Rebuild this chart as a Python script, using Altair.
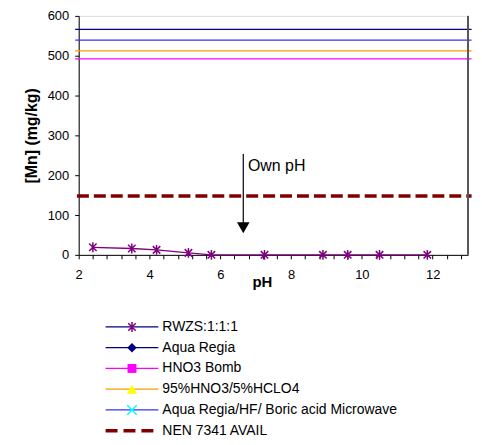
import altair as alt
import pandas as pd

# ---- data ----
ph = [2.4, 3.5, 4.2, 5.1, 5.75, 7.25, 8.9, 9.6, 10.5, 11.85]
rwzs = [19, 16, 12.5, 5, 0, 0, 0, 0, 0, 0]

ref_names = ["Aqua Regia", "Aqua Regia/HF/ Boric acid Microwave",
             "95%HNO3/5%HCLO4", "HNO3 Bomb"]
ref_values = [566, 539, 512, 492]
ref_colors = ["#000080", "#3333ff", "#ff9900", "#ff00ff"]

nen_name = "NEN 7341 AVAIL"
nen_value = [148]

arrow_x = [6.65]
arrow_top = [253]
arrow_tip = [78]
arrow_head = [68]
label_x = [6.78]
label_y = [222]

legend_names = ["RWZS:1:1:1", "Aqua Regia", "HNO3 Bomb", "95%HNO3/5%HCLO4",
                "Aqua Regia/HF/ Boric acid Microwave", "NEN 7341 AVAIL"]
legend_line_colors = ["#800080", "#000080", "#ff00ff", "#ff9900", "#0000ff", "#800000"]

x_ticks = [round(2 + 0.4 * i, 1) for i in range(28)]
y_ticks = [0, 100, 200, 300, 400, 500, 600]

FONT = "Liberation Sans"
W, H = 391, 240
ASTERISK = "M0,-1L0,1M-0.75,-0.75L0.75,0.75M-0.75,0.75L0.75,-0.75"
XMARK = "M-1,-1L1,1M-1,1L1,-1"

xscale = alt.Scale(domain=[2, 13], nice=False, zero=False)
yscale = alt.Scale(domain=[0, 600], nice=False)

x_axis = alt.Axis(values=x_ticks,
                  labelExpr="datum.value % 2 == 0 ? format(datum.value, 'd') : ''",
                  labelOverlap=False, labelFlush=False, tickSize=4, labelPadding=10,
                  labelFontSize=13, titleFontSize=15, titleFontWeight="bold",
                  titleY=20, titleX=184, grid=False, domainColor="black",
                  tickColor="black", labelColor="black", titleColor="black",
                  labelFont=FONT, titleFont=FONT)
y_axis = alt.Axis(values=y_ticks, labelOverlap=False, labelFlush=False, tickSize=4,
                  labelPadding=6, labelFontSize=13, titleFontSize=16, titleFontWeight="bold",
                  titlePadding=8, grid=False, domainColor="black", tickColor="black",
                  labelColor="black", titleColor="black",
                  labelFont=FONT, titleFont=FONT)


def X(field):
    return alt.X(field, scale=xscale, title="pH", axis=x_axis)


def Y(field):
    return alt.Y(field, scale=yscale, title="[Mn] (mg/kg)", axis=y_axis)


# ---- main plot ----
ref_df = pd.DataFrame({"name": ref_names, "v": ref_values, "x0": 1.9, "x1": 13.1})
refs = alt.Chart(ref_df).mark_rule(strokeWidth=1.2).encode(
    x=X("x0:Q"), x2="x1:Q", y=Y("v:Q"),
    color=alt.Color("name:N", scale=alt.Scale(domain=ref_names, range=ref_colors), legend=None),
)

nen_df = pd.DataFrame({"name": [nen_name], "v": nen_value, "x0": 1.95, "x1": 13.1})
nen = alt.Chart(nen_df).mark_rule(strokeWidth=3.5, strokeDash=[12, 5], color="#800000").encode(
    x=X("x0:Q"), x2="x1:Q", y=Y("v:Q"))

rw_df = pd.DataFrame({"ph": ph, "mn": rwzs})
rw_line = alt.Chart(rw_df).mark_line(color="#800080", strokeWidth=1.3).encode(
    x=X("ph:Q"), y=Y("mn:Q"))
rw_pts = alt.Chart(rw_df).mark_point(shape=ASTERISK, size=100, filled=False,
                                     color="#800080", strokeWidth=1.5, opacity=1).encode(
    x=X("ph:Q"), y=Y("mn:Q"))

arr_df = pd.DataFrame({"x": arrow_x, "y0": arrow_top, "y1": arrow_tip, "yh": arrow_head,
                       "lx": label_x, "ly": label_y, "t": ["Own pH"]})
arrow = alt.Chart(arr_df).mark_rule(color="black", strokeWidth=1.2).encode(
    x=X("x:Q"), y=Y("y0:Q"), y2="y1:Q")
head = alt.Chart(arr_df).mark_point(shape="triangle-down", size=160, filled=True,
                                    color="black", opacity=1).encode(
    x=X("x:Q"), y=Y("yh:Q"))
label = alt.Chart(arr_df).mark_text(align="left", baseline="middle", fontSize=16,
                                    font=FONT, color="black").encode(
    x=X("lx:Q"), y=Y("ly:Q"), text="t:N")

right_border = alt.Chart(pd.DataFrame({"x": [13]})).mark_rule(color="#555555", strokeWidth=2).encode(
    x=X("x:Q"))

main = alt.layer(refs, nen, rw_line, rw_pts, arrow, head, label, right_border).properties(
    width=W, height=H)

# ---- legend panel ----
LX0, LX1, LXM, LXT = 27, 80, 53.5, 84
leg_df = pd.DataFrame({"name": legend_names, "row": list(range(len(legend_names))),
                       "x0": LX0, "x1": LX1, "xm": LXM, "xt": LXT})
lx = alt.Scale(domain=[0, W])
ly = alt.Scale(domain=[-0.5, 5.5], reverse=True)

leg_lines = alt.Chart(leg_df).transform_filter(alt.datum.row < 5).mark_rule(strokeWidth=1.3).encode(
    x=alt.X("x0:Q", scale=lx, axis=None), x2="x1:Q",
    y=alt.Y("row:Q", scale=ly, axis=None),
    color=alt.Color("name:N", scale=alt.Scale(domain=legend_names, range=legend_line_colors),
                    legend=None))
leg_dash = alt.Chart(leg_df).transform_filter(alt.datum.row == 5).mark_rule(
    strokeWidth=3.5, strokeDash=[12, 6], color="#800000").encode(
    x=alt.X("x0:Q", scale=lx, axis=None), x2="x1:Q", y=alt.Y("row:Q", scale=ly, axis=None))

marker_specs = [
    (0, dict(shape=ASTERISK, filled=False, color="#800080", strokeWidth=1.5, size=100)),
    (1, dict(shape="diamond", filled=True, color="#000080", size=90)),
    (2, dict(shape="square", filled=True, color="#ff00ff", size=80)),
    (3, dict(shape="triangle-up", filled=True, color="#ffff00", size=110)),
    (4, dict(shape=XMARK, filled=False, color="#00ffff", strokeWidth=1.5, size=90)),
]
markers = []
for r, kw in marker_specs:
    markers.append(alt.Chart(leg_df).transform_filter(alt.datum.row == r).mark_point(
        opacity=1, **kw).encode(
        x=alt.X("xm:Q", scale=lx, axis=None), y=alt.Y("row:Q", scale=ly, axis=None)))

leg_text = alt.Chart(leg_df).mark_text(align="left", baseline="middle", fontSize=14,
                                       font=FONT, color="black").encode(
    x=alt.X("xt:Q", scale=lx, axis=None), y=alt.Y("row:Q", scale=ly, axis=None), text="name:N")

legend = alt.layer(leg_lines, leg_dash, *markers, leg_text).properties(
    width=W, height=125, view=alt.ViewBackground(stroke="transparent"))

chart = alt.vconcat(main, legend, spacing=25).properties(
    padding={"left": 14, "top": 0, "right": 0, "bottom": -6}
).configure_view(stroke="black", strokeWidth=1).configure(font=FONT, background="white")

chart.save("out.html", embed_options={"renderer": "svg", "actions": False})
